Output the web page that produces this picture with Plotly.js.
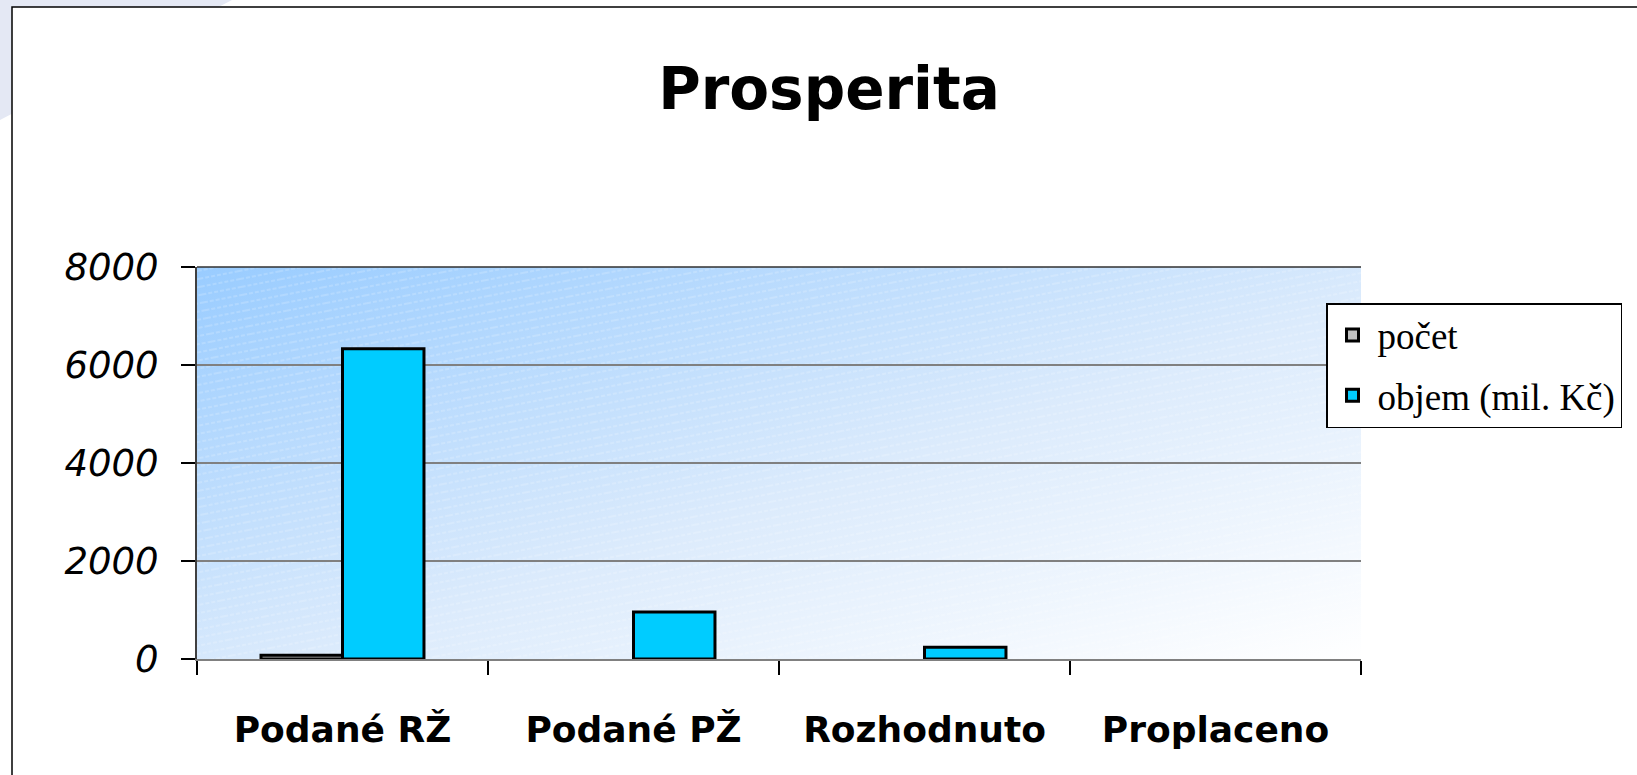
<!DOCTYPE html>
<html>
<head>
<meta charset="utf-8">
<script src="https://cdn.plot.ly/plotly-3.0.1.min.js"></script>
<style>html,body{margin:0;padding:0;background:#fff;}#chart{width:1637px;height:775px;}</style>
</head>
<body>
<div id="chart"></div>
<script>
// ---- data ----
const categories = ['Podané RŽ', 'Podané PŽ', 'Rozhodnuto', 'Proplaceno'];
const pocet = [75, null, null, null];
const objem = [6330, 960, 240, null];
const seriesNames = ['počet', 'objem (mil. Kč)'];
const yTicks = [0, 2000, 4000, 6000, 8000];

// ---- geometry helpers (pixel -> paper) ----
const W = 1637, H = 775;
const L = 197, R = 1361, T = 267, B = 659;
const pw = R - L, ph = B - T;
const px = x => (x - L) / pw;
const py = y => (B - y) / ph;

const bgSvg = "<svg xmlns='http://www.w3.org/2000/svg' width='" + pw + "' height='" + ph + "' viewBox='0 0 " + pw + " " + ph + "' preserveAspectRatio='none'>" +
  "<defs><linearGradient id='g' x1='0' y1='0' x2='1' y2='1'>" +
  "<stop offset='0' stop-color='#99CCFF'/><stop offset='0.55' stop-color='#DCEBFC'/><stop offset='1' stop-color='#FFFFFF'/></linearGradient>" +
  "<pattern id='p' width='40' height='8' patternUnits='userSpaceOnUse' patternTransform='rotate(-11)'>" +
  "<line x1='0' y1='4' x2='40' y2='4' stroke='#ffffff' stroke-width='1' stroke-dasharray='4 2' stroke-opacity='0.35'/></pattern></defs>" +
  "<rect width='" + pw + "' height='" + ph + "' fill='url(#g)'/><rect width='" + pw + "' height='" + ph + "' fill='url(#p)'/></svg>";
const bgUri = 'data:image/svg+xml;charset=utf-8,' + encodeURIComponent(bgSvg);

const decoPath = 'M' + px(0) + ',' + py(0) + ' L' + px(232) + ',' + py(0) + ' L' + px(218.5) + ',' + py(7) +
  ' L' + px(12) + ',' + py(7) + ' L' + px(12) + ',' + py(113.8) + ' L' + px(0) + ',' + py(120) + ' Z';

const traces = [
  {type: 'bar', name: seriesNames[0], x: categories, y: pocet, legendgroup: 'a',
   marker: {color: '#C0C0C0', line: {color: '#000000', width: 3}}},
  {type: 'bar', name: seriesNames[1], x: categories, y: objem, legendgroup: 'b',
   marker: {color: '#00CCFF', line: {color: '#000000', width: 3}}}
];

const layout = {
  width: W, height: H,
  margin: {l: L, r: W - R, t: T, b: H - B, pad: 0, autoexpand: false},
  paper_bgcolor: '#ffffff',
  plot_bgcolor: 'rgba(0,0,0,0)',
  barmode: 'group',
  bargap: 0.44,
  bargroupgap: 0,
  showlegend: true,
  title: {text: 'Prosperita', font: {family: 'DejaVu Sans', size: 58, weight: 'bold', color: '#000'},
          xref: 'container', yref: 'container', x: 829 / W, y: 1 - 89 / H, xanchor: 'center', yanchor: 'middle'},
  xaxis: {
    type: 'category', showgrid: false, zeroline: false,
    showline: true, linecolor: '#808080', linewidth: 2,
    ticks: 'outside', tickson: 'boundaries', ticklen: 14, tickcolor: '#000', tickwidth: 1.5,
    tickfont: {family: 'DejaVu Sans', size: 36, weight: 'bold', color: '#000'},
    ticklabelstandoff: 38
  },
  yaxis: {
    range: [0, 8000], tickvals: yTicks, ticktext: yTicks.map(String),
    showgrid: true, gridcolor: '#808080', gridwidth: 1.5, zeroline: false,
    showline: true, linecolor: '#404040', linewidth: 2,
    ticks: 'outside', ticklen: 14, tickcolor: '#000', tickwidth: 1.5,
    tickfont: {family: 'DejaVu Sans', size: 37, style: 'italic', color: '#000'},
    ticklabelstandoff: 15
  },
  legend: {
    x: px(1326), y: py(303), xanchor: 'left', yanchor: 'top',
    bgcolor: '#ffffff', bordercolor: '#000000', borderwidth: 1.5,
    font: {family: 'Liberation Serif', size: 37, color: '#000'},
    itemwidth: 40,
    tracegroupgap: 9, traceorder: 'grouped'
  },
  images: [{source: bgUri, xref: 'paper', yref: 'paper', x: 0, y: 1, sizex: 1, sizey: 1,
            sizing: 'stretch', xanchor: 'left', yanchor: 'top', layer: 'below'}],
  shapes: [
    {type: 'path', xref: 'paper', yref: 'paper', path: decoPath, fillcolor: '#E4E8F4', line: {width: 0}, layer: 'below'},
    {type: 'rect', xref: 'paper', yref: 'paper', x0: px(12), y0: py(800), x1: px(1660), y1: py(7),
     fillcolor: 'rgba(0,0,0,0)', line: {color: '#000', width: 1.5}, layer: 'below'},
    {type: 'line', xref: 'paper', yref: 'paper', x0: 0, x1: 1, y0: 1, y1: 1, line: {color: '#303030', width: 1.5}, layer: 'above'}
  ]
};

Plotly.newPlot('chart', traces, layout, {displayModeBar: false, staticPlot: true});
</script>
</body>
</html>
